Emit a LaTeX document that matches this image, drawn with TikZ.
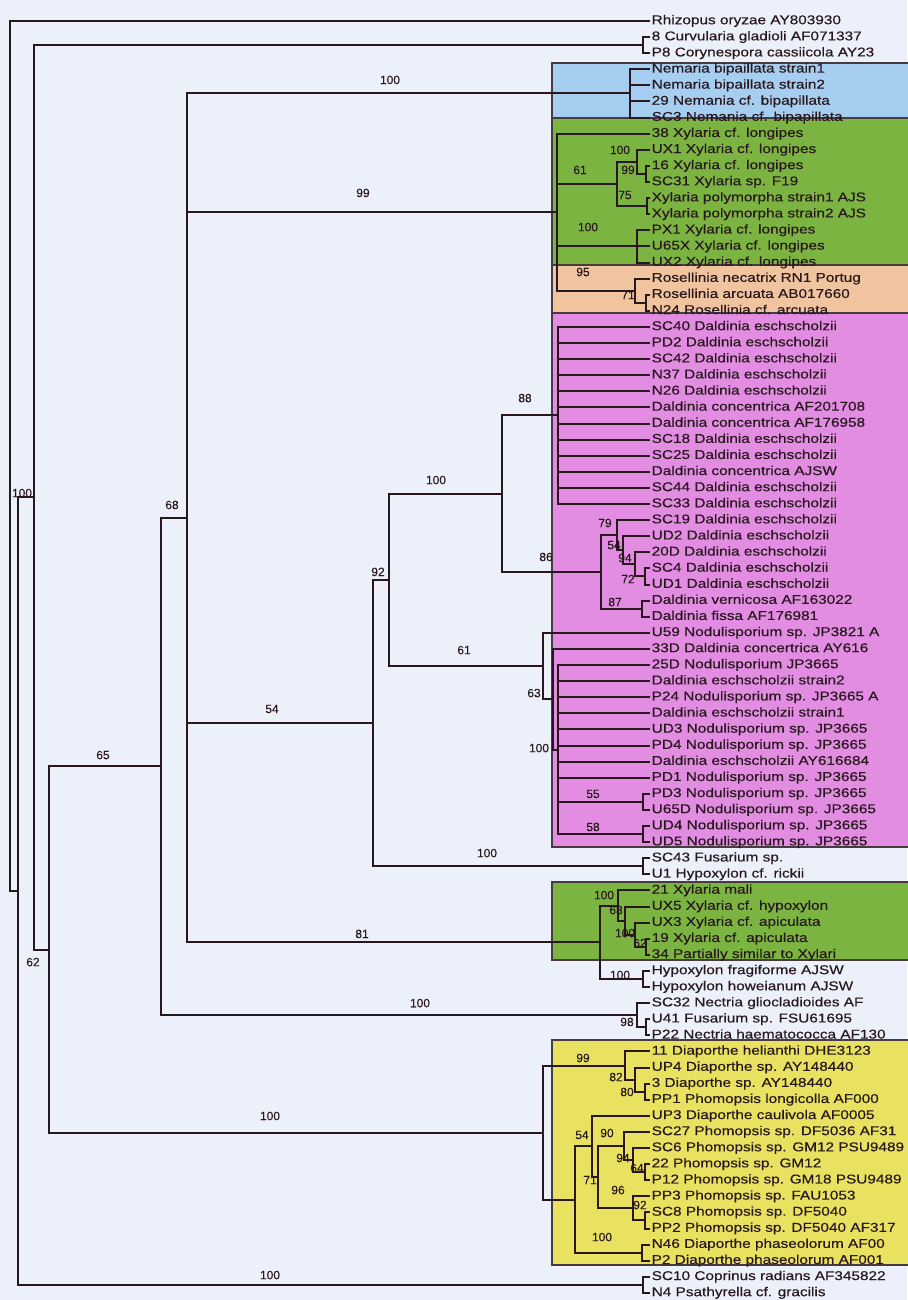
\documentclass[tikz,border=0pt]{standalone}
\usepackage{fontspec}
\setmainfont{Liberation Sans}
\newfontfamily\leaffont{Liberation Sans}[FakeStretch=1.2,FakeBold=0.35]
\newfontfamily\bsfont{Liberation Sans}[FakeBold=0.2]
\usepackage{tikz}
\definecolor{cBg}{RGB}{236,240,250}
\definecolor{cBlue}{RGB}{166,206,240}
\definecolor{cGreen}{RGB}{124,180,66}
\definecolor{cPeach}{RGB}{240,196,158}
\definecolor{cPink}{RGB}{226,140,226}
\definecolor{cYellow}{RGB}{232,226,96}
\definecolor{cLine}{RGB}{40,24,30}

\begin{document}
\begin{tikzpicture}[x=1pt,y=-16.1pt,
  br/.style={cLine,line width=2pt},
  leaf/.style={anchor=west,inner sep=1.5pt,text height=9pt,text depth=2.5pt,
    font=\leaffont\fontsize{12.8}{13}\selectfont,text=cLine},
  bs/.style={inner sep=0pt,font=\bsfont\fontsize{12}{12}\selectfont,text=cLine},
  clade/.style={draw=cLine!85,line width=1.2pt}]
\fill[cBg] (0,-0.304) rectangle (907,80.44);
\useasboundingbox (0,-0.304) rectangle (907,80.44);
% clade boxes
\filldraw[clade,fill=cBlue] (552,3.61) rectangle (912,7.02);
\filldraw[clade,fill=cGreen] (552,7.02) rectangle (912,16.16);
\filldraw[clade,fill=cPeach] (552,16.16) rectangle (912,19.14);
\filldraw[clade,fill=cPink] (552,19.14) rectangle (912,52.3);
\filldraw[clade,fill=cGreen] (552,54.48) rectangle (912,59.32);
\filldraw[clade,fill=cYellow] (552,64.29) rectangle (912,78.27);
% leaves
\node[leaf] (l1) at (650,1) {Rhizopus oryzae AY803930};
\node[leaf] (l2) at (650,2) {8 Curvularia gladioli AF071337};
\node[leaf] (l3) at (650,3) {P8 Corynespora cassiicola AY23};
\node[leaf] (l4) at (650,4) {Nemaria bipaillata strain1};
\node[leaf] (l5) at (650,5) {Nemaria bipaillata strain2};
\node[leaf] (l6) at (650,6) {29 Nemania cf. bipapillata};
\node[leaf] (l7) at (650,7) {SC3 Nemania cf. bipapillata};
\node[leaf] (l8) at (650,8) {38 Xylaria cf. longipes};
\node[leaf] (l9) at (650,9) {UX1 Xylaria cf. longipes};
\node[leaf] (l10) at (650,10) {16 Xylaria cf. longipes};
\node[leaf] (l11) at (650,11) {SC31 Xylaria sp. F19};
\node[leaf] (l12) at (650,12) {Xylaria polymorpha strain1 AJS};
\node[leaf] (l13) at (650,13) {Xylaria polymorpha strain2 AJS};
\node[leaf] (l14) at (650,14) {PX1 Xylaria cf. longipes};
\node[leaf] (l15) at (650,15) {U65X Xylaria cf. longipes};
\node[leaf] (l16) at (650,16) {UX2 Xylaria cf. longipes};
\node[leaf] (l17) at (650,17) {Rosellinia necatrix RN1 Portug};
\node[leaf] (l18) at (650,18) {Rosellinia arcuata AB017660};
\node[leaf] (l19) at (650,19) {N24 Rosellinia cf. arcuata};
\node[leaf] (l20) at (650,20) {SC40 Daldinia eschscholzii};
\node[leaf] (l21) at (650,21) {PD2 Daldinia eschscholzii};
\node[leaf] (l22) at (650,22) {SC42 Daldinia eschscholzii};
\node[leaf] (l23) at (650,23) {N37 Daldinia eschscholzii};
\node[leaf] (l24) at (650,24) {N26 Daldinia eschscholzii};
\node[leaf] (l25) at (650,25) {Daldinia concentrica AF201708};
\node[leaf] (l26) at (650,26) {Daldinia concentrica AF176958};
\node[leaf] (l27) at (650,27) {SC18 Daldinia eschscholzii};
\node[leaf] (l28) at (650,28) {SC25 Daldinia eschscholzii};
\node[leaf] (l29) at (650,29) {Daldinia concentrica AJSW};
\node[leaf] (l30) at (650,30) {SC44 Daldinia eschscholzii};
\node[leaf] (l31) at (650,31) {SC33 Daldinia eschscholzii};
\node[leaf] (l32) at (650,32) {SC19 Daldinia eschscholzii};
\node[leaf] (l33) at (650,33) {UD2 Daldinia eschscholzii};
\node[leaf] (l34) at (650,34) {20D Daldinia eschscholzii};
\node[leaf] (l35) at (650,35) {SC4 Daldinia eschscholzii};
\node[leaf] (l36) at (650,36) {UD1 Daldinia eschscholzii};
\node[leaf] (l37) at (650,37) {Daldinia vernicosa AF163022};
\node[leaf] (l38) at (650,38) {Daldinia fissa AF176981};
\node[leaf] (l39) at (650,39) {U59 Nodulisporium sp. JP3821 A};
\node[leaf] (l40) at (650,40) {33D Daldinia concertrica AY616};
\node[leaf] (l41) at (650,41) {25D Nodulisporium JP3665};
\node[leaf] (l42) at (650,42) {Daldinia eschscholzii strain2};
\node[leaf] (l43) at (650,43) {P24 Nodulisporium sp. JP3665 A};
\node[leaf] (l44) at (650,44) {Daldinia eschscholzii strain1};
\node[leaf] (l45) at (650,45) {UD3 Nodulisporium sp. JP3665};
\node[leaf] (l46) at (650,46) {PD4 Nodulisporium sp. JP3665};
\node[leaf] (l47) at (650,47) {Daldinia eschscholzii AY616684};
\node[leaf] (l48) at (650,48) {PD1 Nodulisporium sp. JP3665};
\node[leaf] (l49) at (650,49) {PD3 Nodulisporium sp. JP3665};
\node[leaf] (l50) at (650,50) {U65D Nodulisporium sp. JP3665};
\node[leaf] (l51) at (650,51) {UD4 Nodulisporium sp. JP3665};
\node[leaf] (l52) at (650,52) {UD5 Nodulisporium sp. JP3665};
\node[leaf] (l53) at (650,53) {SC43 Fusarium sp.};
\node[leaf] (l54) at (650,54) {U1 Hypoxylon cf. rickii};
\node[leaf] (l55) at (650,55) {21 Xylaria mali};
\node[leaf] (l56) at (650,56) {UX5 Xylaria cf. hypoxylon};
\node[leaf] (l57) at (650,57) {UX3 Xylaria cf. apiculata};
\node[leaf] (l58) at (650,58) {19 Xylaria cf. apiculata};
\node[leaf] (l59) at (650,59) {34 Partially similar to Xylari};
\node[leaf] (l60) at (650,60) {Hypoxylon fragiforme AJSW};
\node[leaf] (l61) at (650,61) {Hypoxylon howeianum AJSW};
\node[leaf] (l62) at (650,62) {SC32 Nectria gliocladioides AF};
\node[leaf] (l63) at (650,63) {U41 Fusarium sp. FSU61695};
\node[leaf] (l64) at (650,64) {P22 Nectria haematococca AF130};
\node[leaf] (l65) at (650,65) {11 Diaporthe helianthi DHE3123};
\node[leaf] (l66) at (650,66) {UP4 Diaporthe sp. AY148440};
\node[leaf] (l67) at (650,67) {3 Diaporthe sp. AY148440};
\node[leaf] (l68) at (650,68) {PP1 Phomopsis longicolla AF000};
\node[leaf] (l69) at (650,69) {UP3 Diaporthe caulivola AF0005};
\node[leaf] (l70) at (650,70) {SC27 Phomopsis sp. DF5036 AF31};
\node[leaf] (l71) at (650,71) {SC6 Phomopsis sp. GM12 PSU9489};
\node[leaf] (l72) at (650,72) {22 Phomopsis sp. GM12};
\node[leaf] (l73) at (650,73) {P12 Phomopsis sp. GM18 PSU9489};
\node[leaf] (l74) at (650,74) {PP3 Phomopsis sp. FAU1053};
\node[leaf] (l75) at (650,75) {SC8 Phomopsis sp. DF5040};
\node[leaf] (l76) at (650,76) {PP2 Phomopsis sp. DF5040 AF317};
\node[leaf] (l77) at (650,77) {N46 Diaporthe phaseolorum AF00};
\node[leaf] (l78) at (650,78) {P2 Diaporthe phaseolorum AF001};
\node[leaf] (l79) at (650,79) {SC10 Coprinus radians AF345822};
\node[leaf] (l80) at (650,80) {N4 Psathyrella cf. gracilis};
% internal nodes
\coordinate (root) at (10,28.02);
\coordinate (nA) at (18,55.04);
\coordinate (nB) at (34,30.58);
\coordinate (nCurv) at (643,2.5);
\coordinate (nCop) at (643,79.5);
\coordinate (nC) at (49,58.67);
\coordinate (nD) at (161,47.3);
\coordinate (nE) at (187,31.86);
\coordinate (nNem) at (630,5.5);
\coordinate (nXyl) at (557,12.875);
\coordinate (nR) at (637,9.75);
\coordinate (nS) at (646,10.5);
\coordinate (nT) at (647,12.5);
\coordinate (nU) at (617,11.125);
\coordinate (nV) at (637,15);
\coordinate (nW) at (635,17.75);
\coordinate (nX) at (646,18.5);
\coordinate (nF) at (373,44.6);
\coordinate (nFus) at (643,53.5);
\coordinate (nG) at (389,35.71);
\coordinate (nH) at (502,30.36);
\coordinate (nI) at (558,25.5);
\coordinate (nJ) at (601,35.22);
\coordinate (nK) at (617,32.94);
\coordinate (nL) at (623,33.875);
\coordinate (nM) at (635,34.75);
\coordinate (nN) at (645,35.5);
\coordinate (nVer) at (642,37.5);
\coordinate (nO) at (543,41.06);
\coordinate (nP) at (553,43.125);
\coordinate (nQ) at (558,46.25);
\coordinate (nQa) at (643,49.5);
\coordinate (nQb) at (643,51.5);
\coordinate (nY) at (600,58.22);
\coordinate (nZ) at (618,55.94);
\coordinate (nAA) at (625,56.875);
\coordinate (nAB) at (635,57.75);
\coordinate (nAC) at (646,58.5);
\coordinate (nHyp) at (643,60.5);
\coordinate (nNec) at (637,62.75);
\coordinate (nNecb) at (646,63.5);
\coordinate (nDA) at (543,70.04);
\coordinate (nDB) at (625,65.875);
\coordinate (nDC) at (635,66.75);
\coordinate (nDD) at (645,67.5);
\coordinate (nDE) at (575,74.2);
\coordinate (nDF) at (592,70.9);
\coordinate (nDG) at (598,72.81);
\coordinate (nDH) at (624,70.875);
\coordinate (nDI) at (633,71.75);
\coordinate (nDJ) at (645,72.5);
\coordinate (nDK) at (633,74.75);
\coordinate (nDL) at (645,75.5);
\coordinate (nPha) at (642,77.5);
% bootstrap values
\node[bs] (bB) at (22,30.32) {100};
\node[bs] (bC) at (33,59.45) {62};
\node[bs] (bD) at (103,46.59) {65};
\node[bs] (bE) at (172,31.06) {68};
\node[bs] (bNem) at (390,4.66) {100};
\node[bs] (bXyl) at (363,11.68) {99};
\node[bs] (bF) at (272,43.73) {54};
\node[bs] (bY) at (362,57.7) {81};
\node[bs] (bNec) at (420,62.0) {100};
\node[bs] (bDA) at (270,69.01) {100};
\node[bs] (bCop) at (270,78.89) {100};
\node[bs] (bFus) at (487,52.68) {100};
\node[bs] (bG) at (378,35.22) {92};
\node[bs] (bH) at (436,29.51) {100};
\node[bs] (bO) at (464,40.07) {61};
\node[bs] (bI) at (525,24.42) {88};
\node[bs] (bJ) at (546,34.29) {86};
\node[bs] (bP) at (534,42.74) {63};
\node[bs] (bQ) at (539,46.16) {100};
\node[bs] (bK) at (605,32.18) {79};
\node[bs] (bL) at (614,33.55) {54};
\node[bs] (bM) at (625,34.35) {94};
\node[bs] (bN) at (628,35.66) {72};
\node[bs] (bVer) at (615,37.09) {87};
\node[bs] (bU) at (580,10.25) {61};
\node[bs] (bR) at (620,9.01) {100};
\node[bs] (bS) at (628,10.25) {99};
\node[bs] (bT) at (625,11.81) {75};
\node[bs] (bV) at (588,13.8) {100};
\node[bs] (bW) at (583,16.59) {95};
\node[bs] (bX) at (628,18.02) {71};
\node[bs] (bQa) at (593,49.01) {55};
\node[bs] (bQb) at (593,51.06) {58};
\node[bs] (bZ) at (604,55.29) {100};
\node[bs] (bAA) at (616,56.22) {68};
\node[bs] (bAB) at (625,57.65) {100};
\node[bs] (bAC) at (640,58.27) {62};
\node[bs] (bHyp) at (620,60.25) {100};
\node[bs] (bNecb) at (627,63.17) {98};
\node[bs] (bDB) at (583,65.41) {99};
\node[bs] (bDC) at (616,66.59) {82};
\node[bs] (bDD) at (627,67.52) {80};
\node[bs] (bDF) at (582,70.19) {54};
\node[bs] (bDH) at (607,70.07) {90};
\node[bs] (bDI) at (623,71.62) {94};
\node[bs] (bDJ) at (637,72.24) {64};
\node[bs] (bDG) at (590,72.99) {71};
\node[bs] (bDK) at (618,73.61) {96};
\node[bs] (bDL) at (640,74.54) {92};
\node[bs] (bPha) at (602,76.53) {100};
% branches
\draw[br] (root) |- (l1);
\draw[br] (root) |- (nA);
\draw[br] (nA) |- (nB);
\draw[br] (nA) |- (nCop);
\draw[br] (nCop) |- (l79);
\draw[br] (nCop) |- (l80);
\draw[br] (nB) |- (nCurv);
\draw[br] (nCurv) |- (l2);
\draw[br] (nCurv) |- (l3);
\draw[br] (nB) |- (nC);
\draw[br] (nC) |- (nD);
\draw[br] (nC) |- (nDA);
\draw[br] (nD) |- (nE);
\draw[br] (nD) |- (nNec);
\draw[br] (nNec) |- (l62);
\draw[br] (nNec) |- (nNecb);
\draw[br] (nNecb) |- (l63);
\draw[br] (nNecb) |- (l64);
\draw[br] (nE) |- (nNem);
\draw[br] (nE) |- (nXyl);
\draw[br] (nE) |- (nF);
\draw[br] (nE) |- (nY);
\foreach \c in {l4,l5,l6,l7} \draw[br] (nNem) |- (\c);
\draw[br] (nXyl) |- (l8);
\draw[br] (nXyl) |- (nU);
\draw[br] (nXyl) |- (nV);
\draw[br] (nXyl) |- (nW);
\draw[br] (nU) |- (nR);
\draw[br] (nU) |- (nT);
\draw[br] (nR) |- (l9);
\draw[br] (nR) |- (nS);
\draw[br] (nS) |- (l10);
\draw[br] (nS) |- (l11);
\draw[br] (nT) |- (l12);
\draw[br] (nT) |- (l13);
\foreach \c in {l14,l15,l16} \draw[br] (nV) |- (\c);
\draw[br] (nW) |- (l17);
\draw[br] (nW) |- (nX);
\draw[br] (nX) |- (l18);
\draw[br] (nX) |- (l19);
\draw[br] (nF) |- (nG);
\draw[br] (nF) |- (nFus);
\draw[br] (nFus) |- (l53);
\draw[br] (nFus) |- (l54);
\draw[br] (nG) |- (nH);
\draw[br] (nG) |- (nO);
\draw[br] (nH) |- (nI);
\draw[br] (nH) |- (nJ);
\foreach \c in {l20,l21,l22,l23,l24,l25,l26,l27,l28,l29,l30,l31} \draw[br] (nI) |- (\c);
\draw[br] (nJ) |- (nK);
\draw[br] (nJ) |- (nVer);
\draw[br] (nK) |- (l32);
\draw[br] (nK) |- (nL);
\draw[br] (nL) |- (l33);
\draw[br] (nL) |- (nM);
\draw[br] (nM) |- (l34);
\draw[br] (nM) |- (nN);
\draw[br] (nN) |- (l35);
\draw[br] (nN) |- (l36);
\draw[br] (nVer) |- (l37);
\draw[br] (nVer) |- (l38);
\draw[br] (nO) |- (l39);
\draw[br] (nO) |- (nP);
\draw[br] (nP) |- (l40);
\draw[br] (nP) |- (nQ);
\foreach \c in {l41,l42,l43,l44,l45,l46,l47,l48,nQa,nQb} \draw[br] (nQ) |- (\c);
\draw[br] (nQa) |- (l49);
\draw[br] (nQa) |- (l50);
\draw[br] (nQb) |- (l51);
\draw[br] (nQb) |- (l52);
\draw[br] (nY) |- (nZ);
\draw[br] (nY) |- (nHyp);
\draw[br] (nZ) |- (l55);
\draw[br] (nZ) |- (nAA);
\draw[br] (nAA) |- (l56);
\draw[br] (nAA) |- (nAB);
\draw[br] (nAB) |- (l57);
\draw[br] (nAB) |- (nAC);
\draw[br] (nAC) |- (l58);
\draw[br] (nAC) |- (l59);
\draw[br] (nHyp) |- (l60);
\draw[br] (nHyp) |- (l61);
\draw[br] (nDA) |- (nDB);
\draw[br] (nDA) |- (nDE);
\draw[br] (nDB) |- (l65);
\draw[br] (nDB) |- (nDC);
\draw[br] (nDC) |- (l66);
\draw[br] (nDC) |- (nDD);
\draw[br] (nDD) |- (l67);
\draw[br] (nDD) |- (l68);
\draw[br] (nDE) |- (nDF);
\draw[br] (nDE) |- (nPha);
\draw[br] (nDF) |- (l69);
\draw[br] (nDF) |- (nDG);
\draw[br] (nDG) |- (nDH);
\draw[br] (nDG) |- (nDK);
\draw[br] (nDH) |- (l70);
\draw[br] (nDH) |- (nDI);
\draw[br] (nDI) |- (l71);
\draw[br] (nDI) |- (nDJ);
\draw[br] (nDJ) |- (l72);
\draw[br] (nDJ) |- (l73);
\draw[br] (nDK) |- (l74);
\draw[br] (nDK) |- (nDL);
\draw[br] (nDL) |- (l75);
\draw[br] (nDL) |- (l76);
\draw[br] (nPha) |- (l77);
\draw[br] (nPha) |- (l78);
\end{tikzpicture}
\end{document}
